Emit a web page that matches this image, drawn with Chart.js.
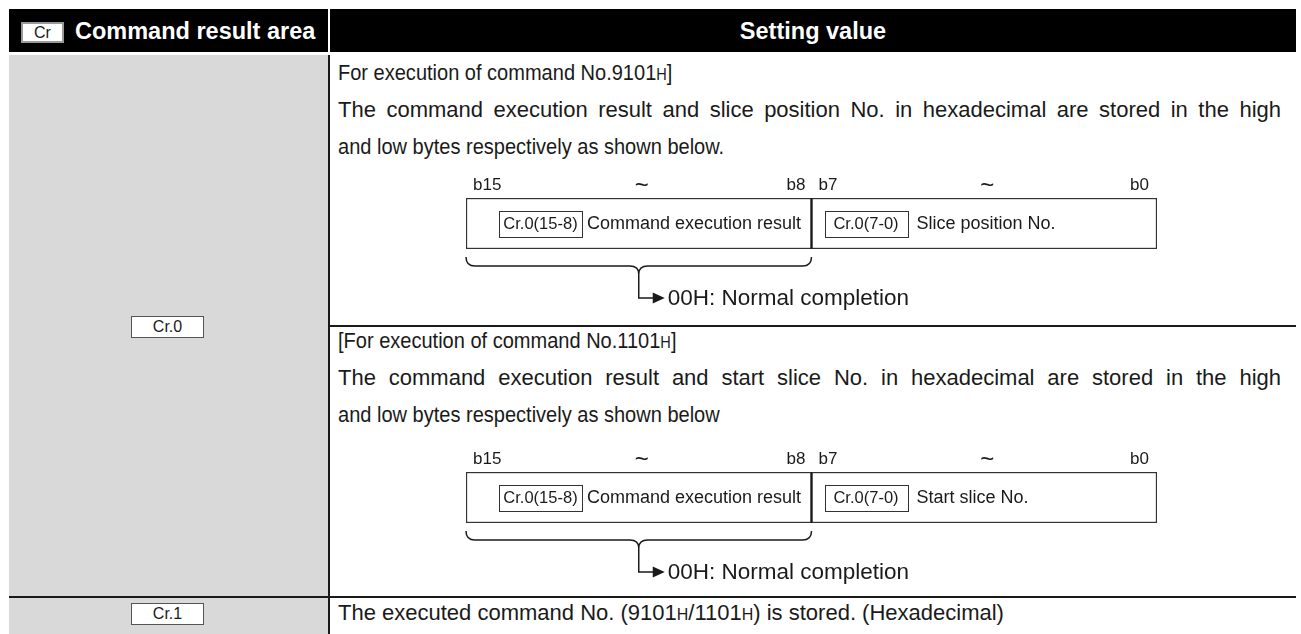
<!DOCTYPE html>
<html>
<head>
<meta charset="utf-8">
<script src="https://cdn.jsdelivr.net/npm/chart.js@4.4.1/dist/chart.umd.min.js"></script>
<style>
  html, body { margin: 0; padding: 0; background: #fff; }
  #page { position: relative; width: 1301px; height: 634px; overflow: hidden; font-family: "Liberation Sans", Arial, sans-serif; color: #1a1a1a; }
  .abs { position: absolute; }
  .hdr { background: #000; top: 9px; height: 43px; }
  .hdrtxt { color: #fff; font-weight: bold; font-size: 23.5px; line-height: 26px; white-space: nowrap; }
  .gray { background: #d9d9d9; }
  .line { background: #1a1a1a; }
  .txt { font-size: 22px; line-height: 26px; white-space: nowrap; transform-origin: 0 50%; }
  .cond { transform: scaleX(0.91); }
  .just { text-align: justify; text-align-last: justify; white-space: normal; width: 943px; }
  .sub { font-size: 16px; }
  .tag { background: #fff; border: 1px solid #555; font-size: 14px; text-align: center; box-sizing: border-box; line-height: 20px; }
  canvas.diag { position: absolute; }
</style>
</head>
<body>
<div id="page"></div>
<script>
// ---------- data ----------
const headerLabels = ['Command result area', 'Setting value'];
const headerTag = 'Cr';
const rowTags = ['Cr.0', 'Cr.1'];
const block1Lines = [
  ['For execution of command No.9101', 'H', ']'],
  ['The command execution result and slice position No. in hexadecimal are stored in the high'],
  ['and low bytes respectively as shown below.']
];
const block2Lines = [
  ['[For execution of command No.1101', 'H', ']'],
  ['The command execution result and start slice No. in hexadecimal are stored in the high'],
  ['and low bytes respectively as shown below']
];
const row2Line = ['The executed command No. (9101', 'H', '/1101', 'H', ') is stored. (Hexadecimal)'];
const bitTickLabels = ['b15', 'b8', 'b7', 'b0'];
const bitRangeMark = '~';
const byteFields = ['Cr.0(15-8)', 'Cr.0(7-0)'];
const byteBits = [8, 8];            // high byte, low byte
const diagram1Names = ['Command execution result', 'Slice position No.'];
const diagram2Names = ['Command execution result', 'Start slice No.'];
const resultText = '00H: Normal completion';

// ---------- layout (static table) ----------
const page = document.getElementById('page');
function el(cls, style, html) {
  const d = document.createElement('div');
  d.className = 'abs ' + (cls || '');
  Object.assign(d.style, style);
  if (html !== undefined) d.innerHTML = html;
  page.appendChild(d);
  return d;
}
function richLine(parts) {
  return parts.map(p => p === 'H' ? '<span class="sub">H</span>' : p.replace(/&/g,'&amp;')).join('');
}
// header
el('hdr', {left: '9px', width: '1287px'});
el('', {left: '328px', top: '9px', width: '2px', height: '43px', background: '#fff'});
el('tag', {left: '21px', top: '22px', width: '43px', height: '21px', border: '2px solid #999', fontSize: '16px', lineHeight: '17px'}, headerTag);
el('hdrtxt', {left: '75px', top: '18px'}, headerLabels[0]);
el('hdrtxt', {left: '330px', width: '966px', top: '18px', textAlign: 'center'}, headerLabels[1]);
// body
el('gray', {left: '9px', top: '55px', width: '319px', height: '579px'});
el('line', {left: '328px', top: '55px', width: '2px', height: '579px'});
el('line', {left: '330px', top: '325px', width: '966px', height: '2px'});
el('line', {left: '9px', top: '596px', width: '1287px', height: '2px'});
el('tag', {left: '131px', top: '316px', width: '73px', height: '22px', fontSize: '16px'}, rowTags[0]);
el('tag', {left: '131px', top: '603px', width: '73px', height: '22px', fontSize: '16px'}, rowTags[1]);
const lineCenters1 = [73, 110, 147];
const lineCenters2 = [341, 378, 415];
block1Lines.forEach((ln, i) => el('txt ' + (i === 1 ? 'just' : 'cond'), {left: '338px', top: (lineCenters1[i] - 13) + 'px'}, richLine(ln)));
block2Lines.forEach((ln, i) => el('txt ' + (i === 1 ? 'just' : 'cond'), {left: '338px', top: (lineCenters2[i] - 13) + 'px'}, richLine(ln)));
el('txt', {left: '338px', top: (613 - 13) + 'px'}, richLine(row2Line));

// ---------- bit diagrams drawn with Chart.js ----------
const FONT = '"Liberation Sans", Arial, sans-serif';
const bitDiagramPlugin = {
  id: 'bitDiagram',
  afterDatasetsDraw(chart, args, opts) {
    const ctx = chart.ctx;
    const xs = chart.scales.x;
    const total = byteBits[0] + byteBits[1];
    const L = xs.getPixelForValue(total);
    const D = xs.getPixelForValue(byteBits[1]);
    const R = xs.getPixelForValue(0);
    const T = chart.chartArea.top;
    const B = chart.chartArea.bottom;
    ctx.save();
    ctx.fillStyle = '#1a1a1a';
    ctx.strokeStyle = '#1a1a1a';
    // divider line between bytes
    ctx.lineWidth = 1.5;
    ctx.beginPath(); ctx.moveTo(D, T); ctx.lineTo(D, B); ctx.stroke();
    // bit tick labels
    ctx.font = '17px ' + FONT;
    ctx.textBaseline = 'middle';
    const ly = T - 13;
    ctx.textAlign = 'left';  ctx.fillText(bitTickLabels[0], L + 7, ly);
    ctx.textAlign = 'right'; ctx.fillText(bitTickLabels[1], D - 6, ly);
    ctx.textAlign = 'left';  ctx.fillText(bitTickLabels[2], D + 7, ly);
    ctx.textAlign = 'right'; ctx.fillText(bitTickLabels[3], R - 8, ly);
    ctx.font = '24px ' + FONT;
    ctx.textAlign = 'center';
    ctx.fillText(bitRangeMark, (L + D) / 2 + 3, ly + 1);
    ctx.fillText(bitRangeMark, (D + R) / 2 + 3, ly + 1);
    // inner field tags + names
    const cy = (T + B) / 2;
    const tagW = 83, tagH = 26;
    [[L + 33, opts.names[0]], [D + 13, opts.names[1]]].forEach(([tx, name], i) => {
      ctx.lineWidth = 1;
      ctx.strokeStyle = '#333';
      ctx.strokeRect(Math.round(tx) + 0.5, Math.round(cy - tagH / 2) + 0.5, tagW, tagH);
      ctx.font = '16.5px ' + FONT;
      ctx.textAlign = 'center';
      ctx.fillText(byteFields[i], tx + tagW / 2, cy + 1);
      ctx.font = '18px ' + FONT;
      ctx.textAlign = 'left';
      ctx.fillText(name, tx + tagW + (i === 0 ? 5 : 9), cy + 1);
    });
    // brace under high byte
    const c = (L + D) / 2;
    const y0 = B + 8, y1 = B + 17, y2 = B + 25, y3 = B + 49;
    ctx.lineWidth = 1.5;
    ctx.strokeStyle = '#1a1a1a';
    ctx.beginPath();
    ctx.moveTo(L, y0);
    ctx.quadraticCurveTo(L, y1, L + 9, y1);
    ctx.lineTo(c - 9, y1);
    ctx.quadraticCurveTo(c, y1, c, y2);
    ctx.quadraticCurveTo(c, y1, c + 9, y1);
    ctx.lineTo(D - 9, y1);
    ctx.quadraticCurveTo(D, y1, D, y0);
    ctx.stroke();
    ctx.beginPath();
    ctx.moveTo(c, y2);
    ctx.lineTo(c, y3);
    ctx.lineTo(c + 16, y3);
    ctx.stroke();
    ctx.beginPath();
    ctx.moveTo(c + 14, y3 - 5.5);
    ctx.lineTo(c + 26, y3);
    ctx.lineTo(c + 14, y3 + 5.5);
    ctx.closePath();
    ctx.fill();
    ctx.font = '22.5px ' + FONT;
    ctx.textAlign = 'left';
    ctx.fillText(resultText, c + 29, y3 + 1);
    ctx.restore();
  }
};

function makeDiagram(top, names) {
  const cv = document.createElement('canvas');
  cv.className = 'diag';
  cv.width = 760; cv.height = 150;
  cv.style.left = '440px'; cv.style.top = top + 'px';
  cv.style.width = '760px'; cv.style.height = '150px';
  page.appendChild(cv);
  const barStyle = {
    backgroundColor: '#ffffff',
    borderColor: '#333333',
    borderWidth: 1.5,
    borderSkipped: false,
    barPercentage: 1,
    categoryPercentage: 1
  };
  new Chart(cv, {
    type: 'bar',
    data: {
      labels: ['word'],
      datasets: [
        Object.assign({ label: byteFields[1], data: [byteBits[1]] }, barStyle),
        Object.assign({ label: byteFields[0], data: [byteBits[0]] }, barStyle)
      ]
    },
    options: {
      indexAxis: 'y',
      responsive: false,
      animation: false,
      devicePixelRatio: 1,
      events: [],
      layout: { padding: { left: 26, right: 43, top: 28, bottom: 71 } },
      scales: {
        x: { type: 'linear', min: 0, max: byteBits[0] + byteBits[1], reverse: true, stacked: true, display: false },
        y: { stacked: true, display: false }
      },
      plugins: {
        legend: { display: false },
        tooltip: { enabled: false },
        colors: { enabled: false },
        bitDiagram: { names: names }
      }
    },
    plugins: [bitDiagramPlugin]
  });
}
makeDiagram(170, diagram1Names);
makeDiagram(444, diagram2Names);
</script>
</body>
</html>
